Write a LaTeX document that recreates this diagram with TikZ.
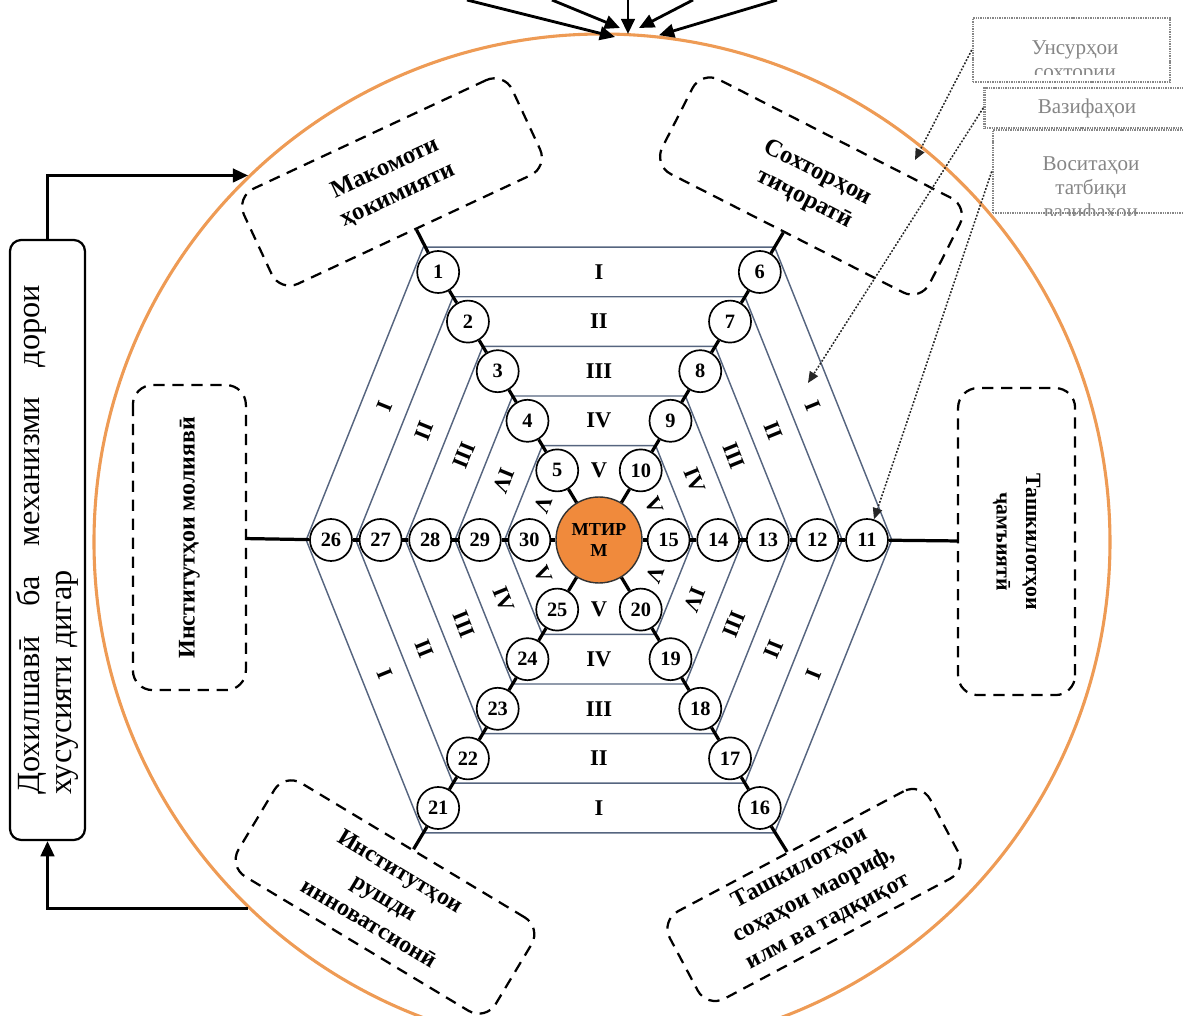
\documentclass[tikz,border=0pt]{standalone}
\usepackage{fontspec}
\setmainfont{Liberation Serif}
\definecolor{hxOrange}{HTML}{EE9B55}
\definecolor{hxCore}{HTML}{F08A3C}
\definecolor{hxSlate}{HTML}{56657F}
\definecolor{hxGray}{HTML}{868686}
\usetikzlibrary{arrows.meta}

\begin{document}
\begin{tikzpicture}[
    num/.style={circle, draw, fill=white, line width=1.2pt, minimum size=1.05cm, inner sep=0pt,
      font=\fontsize{14.5}{15}\selectfont\bfseries},
    band/.style={inner sep=0pt, font=\fontsize{16}{16}\selectfont\bfseries},
    hexline/.style={hxSlate, line width=1pt},
    link/.style={line width=2.3pt},
    dashbox/.style={draw, dash pattern=on 8pt off 5.5pt, line width=1.6pt, rounded corners=14pt,
      inner sep=0pt, align=center, font=\fontsize{17.5}{21}\selectfont\bfseries},
    graybox/.style={draw=hxGray, fill=white, line width=1.8pt, dash pattern=on 1pt off 0.7pt, inner sep=0pt},
    graytext/.style={text=hxGray, align=center, font=\fontsize{15}{17}\selectfont},
    bigarrow/.style={-{Triangle[length=3.8mm, width=3.4mm]}, line width=2pt},
    dotarrow/.style={-{Triangle[length=2.8mm, width=2.4mm]}, black!85, line width=1.1pt,
      dash pattern=on 1.3pt off 1.2pt}
  ]
  \path[use as bounding box] (-14.975,-11.9) rectangle (14.6,13.5);
  \clip (-14.975,-11.9) rectangle (14.6,13.5);

  % outer ring
  \node[circle, draw=hxOrange, line width=2.2pt, minimum size=25.4cm, inner sep=0pt] (ring) at (0.075,-0.05) {};

  % nested hexagons
  \foreach \j in {1,...,5} {
    \pgfmathsetmacro{\brd}{6.7-1.24*(\j-1)+0.62}
    \draw[hexline] (-0.6*\brd,\brd) -- (0.6*\brd,\brd) -- (\brd,0) -- (0.6*\brd,-\brd)
      -- (-0.6*\brd,-\brd) -- (-\brd,0) -- cycle;
  }

  % numbered nodes and band numbers
  \foreach \j/\rn in {1/I, 2/II, 3/III, 4/IV, 5/V} {
    \pgfmathsetmacro{\rad}{6.7-1.24*(\j-1)}
    \pgfmathtruncatemacro{\jb}{\j+5}
    \pgfmathtruncatemacro{\jc}{\j+10}
    \pgfmathtruncatemacro{\jd}{\j+15}
    \pgfmathtruncatemacro{\je}{\j+20}
    \pgfmathtruncatemacro{\jf}{\j+25}
    \node[num] (n\j) at (-0.6*\rad,\rad) {\j};
    \node[num] (n\jb) at (0.6*\rad,\rad) {\jb};
    \node[num] (n\jc) at (\rad,0) {\jc};
    \node[num] (n\jd) at (0.6*\rad,-\rad) {\jd};
    \node[num] (n\je) at (-0.6*\rad,-\rad) {\je};
    \node[num] (n\jf) at (-\rad,0) {\jf};
    \node[band] (bandT\j) at (0,\rad) {\rn};
    \node[band] (bandB\j) at (0,-\rad) {\rn};
    \node[band, rotate=-112] (bandUL\j) at (-0.8*\rad,0.5*\rad) {\rn};
    \node[band, rotate=-68] (bandUR\j) at (0.8*\rad,0.5*\rad) {\rn};
    \node[band, rotate=-112] (bandLR\j) at (0.8*\rad,-0.5*\rad) {\rn};
    \node[band, rotate=-68] (bandLL\j) at (-0.8*\rad,-0.5*\rad) {\rn};
  }

  \node[circle, draw=black!80, fill=hxCore, line width=1pt, minimum size=2.15cm, inner sep=0pt,
    align=center, font=\fontsize{13}{15}\selectfont\bfseries] (mtirm) at (0,0) {МТИР\\М};

  % institutions round the hexagon
  \node[dashbox, rotate=25, minimum width=7.4cm, minimum height=2.625cm] (boxA) at (-5.175,8.95) {Макомоти\\ҳокимияти};
  \node[dashbox, rotate=-27, minimum width=7.5cm, minimum height=2.65cm] (boxB) at (5.3,8.85) {Сохторҳои\\тиҷоратӣ};
  \node[dashbox, rotate=-90, minimum width=7.675cm, minimum height=2.925cm,
    font=\fontsize{15.5}{21}\selectfont\bfseries] (boxC) at (10.44,-0.04) {Ташкилотҳои\\ҷамъиятӣ};
  \node[dashbox, rotate=90, minimum width=7.625cm, minimum height=2.825cm,
    font=\fontsize{17}{21}\selectfont\bfseries] (boxD) at (-10.24,0.06) {Институтҳои молиявӣ};
  \node[dashbox, rotate=-31, minimum width=7.5cm, minimum height=2.725cm,
    font=\fontsize{17}{21.5}\selectfont\bfseries] (boxE) at (-5.35,-8.925) {Институтҳои\\рушди\\инноватсионӣ};
  \node[dashbox, rotate=28, minimum width=7.375cm, minimum height=2.475cm,
    font=\fontsize{17}{21.5}\selectfont\bfseries] (boxF) at (5.375,-8.875) {Ташкилотҳои\\соҳаҳои маориф,\\илм ва тадқиқот};

  % spokes
  \foreach \first/\bx in {1/boxA, 6/boxB, 11/boxC, 16/boxF, 21/boxE, 26/boxD} {
    \pgfmathtruncatemacro{\last}{\first+4}
    \draw[link] (\bx) -- (n\first);
    \foreach \k in {0,...,3} {
      \pgfmathtruncatemacro{\na}{\first+\k}
      \pgfmathtruncatemacro{\nb}{\first+\k+1}
      \draw[link] (n\na) -- (n\nb);
    }
    \draw[link] (n\last) -- (mtirm);
  }

  % entry box on the left
  \node[draw, line width=1.6pt, rounded corners=8pt, rotate=90, minimum width=15cm, minimum height=1.875cm,
    text width=12.75cm, align=justify, inner sep=0pt, font=\fontsize{23}{23}\selectfont] (entry) at (-13.7875,0)
    {Дохилшавӣ ба механизми дорои\linebreak хусусияти дигар};
  \draw[bigarrow] (entry.east) |- (ring.134);
  \draw[bigarrow] (ring.226) -| (entry.west);

  % inputs from above
  \foreach \i/\sx/\tx/\ty in {1/-3.3/0.4/12.575, 2/-1.175/0.525/12.8, 3/0.725/0.725/12.65,
      4/2.35/1.0/12.8, 5/4.45/1.5/12.62} {
    \coordinate (src\i) at (\sx,13.5);
    \coordinate (tip\i) at (\tx,\ty);
    \draw[bigarrow] (src\i) -- (tip\i);
  }

  % legend boxes, top right
  \node[graybox, minimum width=4.925cm, minimum height=1.6cm] (unsur) at (11.8125,12.25) {};
  \begin{scope}
    \clip (9.4,13) rectangle (14.25,11.63);
    \node[graytext] (unsurtxt) at (11.9,11.95) {Унсурҳои\\сохтории};
  \end{scope}
  \node[graybox, minimum width=5.125cm, minimum height=1cm, text=hxGray,
    font=\fontsize{15}{17}\selectfont] (vazifa) at (12.2,10.8) {Вазифаҳои};
  \node[graybox, minimum width=5.05cm, minimum height=2.075cm] (vosita) at (12.375,9.2125) {};
  \begin{scope}
    \clip (9.9,10.2) rectangle (14.6,8.12);
    \node[graytext] (vositatxt) at (12.3,8.75) {Воситаҳои\\татбиқи\\вазифаҳои};
  \end{scope}

  \coordinate (elemtip) at (7.9,9.5);
  \coordinate (functip) at (5.225,3.925);
  \draw[dotarrow] (unsur.west) -- (elemtip);
  \draw[dotarrow] (vazifa.west) -- (functip);
  \draw[dotarrow] (vosita.west) -- (n11);
\end{tikzpicture}
\end{document}
